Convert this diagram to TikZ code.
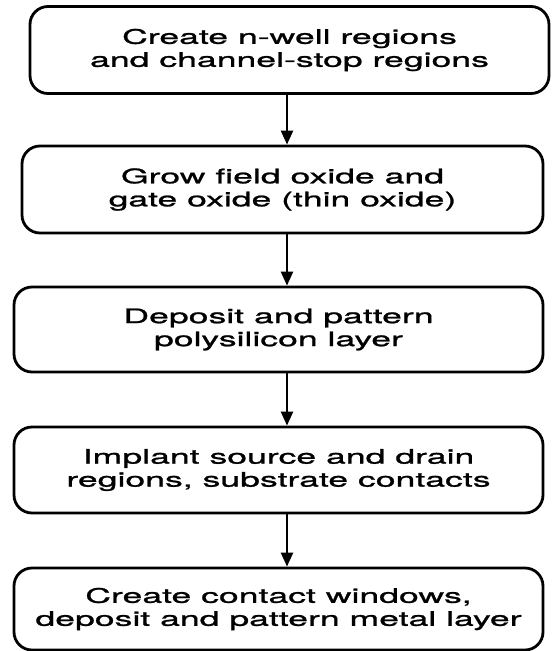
\documentclass[tikz,border=0pt]{standalone}
\usepackage{fontspec}
\setmainfont{TeX Gyre Heros}
\newfontfamily\widefont[FakeStretch=1.78,FakeBold=1.2]{TeX Gyre Heros}
\usetikzlibrary{arrows.meta}
\begin{document}
\begin{tikzpicture}[x=1pt,y=1pt,
  stepbox/.style={draw,line width=2.8pt,rounded corners=18pt,inner sep=0pt,
    align=center,font=\widefont\fontsize{20}{23}\selectfont},
  arr/.style={line width=2.4pt,-{Triangle[length=14pt,width=12pt]}}]
\useasboundingbox (0,0) rectangle (554,-651);
\node[stepbox,minimum width=519pt,minimum height=87pt] (b1) at (289.5,-50) {Create n-well regions\\and channel-stop regions};
\node[stepbox,minimum width=521pt,minimum height=87pt] (b2) at (282.5,-189.5) {Grow field oxide and\\gate oxide (thin oxide)};
\node[stepbox,minimum width=529pt,minimum height=85pt] (b3) at (278.5,-329.5) {Deposit and pattern\\polysilicon layer};
\node[stepbox,minimum width=529pt,minimum height=86pt] (b4) at (278.5,-470) {Implant source and drain\\regions, substrate contacts};
\node[stepbox,minimum width=529pt,minimum height=82pt] (b5) at (278.5,-609) {Create contact windows,\\deposit and pattern metal layer};
\coordinate (ax) at (287,0);
\draw[arr] (b1.south -| ax) -- (b2.north -| ax);
\draw[arr] (b2.south -| ax) -- (b3.north -| ax);
\draw[arr] (b3.south -| ax) -- (b4.north -| ax);
\draw[arr] (b4.south -| ax) -- (b5.north -| ax);
\end{tikzpicture}
\end{document}
